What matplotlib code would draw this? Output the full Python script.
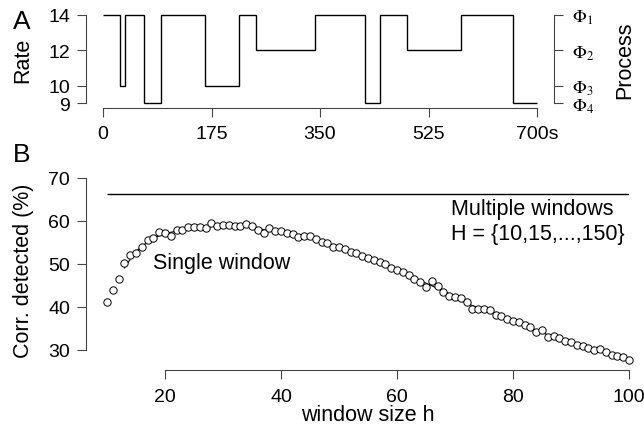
import matplotlib
matplotlib.use("Agg")
import matplotlib.pyplot as plt
import numpy as np
import pandas as pd

plt.rcParams['font.family'] = ['Liberation Sans', 'DejaVu Sans']
plt.rcParams['mathtext.fontset'] = 'stix'

# panel A: rate process switching over time
switch_times = [0, 28, 35, 66, 93, 165, 220, 247, 342, 422, 446, 491, 578, 661, 700]
rate_levels = [14, 10, 14, 9, 14, 10, 14, 12, 14, 9, 14, 12, 14, 9]
rate_ticks = [9, 10, 12, 14]
time_ticks = [0, 175, 350, 525, 700]
time_labels = ['0', '175', '350', '525', '700s']
process_ticks = [14, 12, 10, 9]
process_labels = [r'$\Phi_1$', r'$\Phi_2$', r'$\Phi_3$', r'$\Phi_4$']

# panel B: correlations detected vs window size
window_h = list(range(10, 101))
corr_single = [41.1, 44.0, 46.4, 50.2, 52.2, 52.6, 54.0, 55.6, 56.0, 57.4,
               57.1, 56.6, 57.9, 57.9, 58.7, 58.5, 58.5, 58.4, 59.5, 58.9,
               59.1, 59.1, 58.8, 58.8, 59.3, 58.8, 58.0, 57.2, 58.3, 57.7,
               57.7, 57.2, 57.0, 56.2, 56.4, 56.4, 55.8, 55.2, 54.8, 53.9,
               53.9, 53.6, 52.9, 52.5, 51.9, 51.4, 50.9, 50.5, 49.9, 49.0,
               48.5, 48.2, 47.4, 46.4, 45.7, 44.6, 46.0, 45.0, 43.4, 42.6,
               42.3, 42.0, 41.2, 39.5, 39.5, 39.5, 39.4, 38.1, 37.8, 37.2,
               36.8, 36.4, 35.7, 35.3, 34.1, 34.7, 33.0, 33.2, 32.7, 32.2,
               31.8, 31.2, 30.9, 30.4, 30.1, 30.2, 29.5, 28.8, 28.5, 28.3,
               27.7]
corr_multiple = 66.3
corr_ticks = [30, 40, 50, 60, 70]
h_ticks = [20, 40, 60, 80, 100]

fig = plt.figure(figsize=(6.44, 4.27), dpi=100)

tick_size = 14
label_size = 15.5
axis_col = '#444444'


def style_axis(ax):
    ax.tick_params(direction='out', length=6.5, width=0.8, color=axis_col,
                   labelsize=tick_size, pad=5)
    for s in ax.spines.values():
        s.set_linewidth(0.8)
        s.set_color(axis_col)


# ---- panel A ----
axA = fig.add_axes([103 / 644, 1 - 104.3 / 427, 434 / 644, 88.6 / 427])
axA.stairs(rate_levels, switch_times, baseline=None, color='black', lw=1.0,
           clip_on=False)
axA.set_xlim(0, 700)
axA.set_ylim(9, 14)
axA.set_xticks(time_ticks)
axA.set_xticklabels(time_labels)
axA.set_yticks(rate_ticks)
axA.spines['top'].set_visible(False)
axA.spines['right'].set_visible(False)
axA.spines['left'].set_position(('outward', 12.2))
axA.spines['bottom'].set_position(('outward', 3.2))
axA.spines['left'].set_bounds(9, 14)
axA.spines['bottom'].set_bounds(0, 700)
style_axis(axA)
axA.tick_params(axis='x', pad=6)
axA.set_ylabel('Rate', fontsize=label_size, labelpad=11)

axP = axA.twinx()
axP.set_ylim(9, 14)
axP.set_yticks(process_ticks)
axP.set_yticklabels(process_labels)
for s in ['top', 'left', 'bottom']:
    axP.spines[s].set_visible(False)
axP.spines['right'].set_position(('outward', 11.9))
axP.spines['right'].set_bounds(9, 14)
style_axis(axP)
axP.tick_params(axis='y', pad=7, labelsize=13)
axP.set_ylabel('Process', fontsize=label_size, rotation=90, labelpad=14)

fig.text(22 / 644, 1 - 22 / 427, 'A', fontsize=19, ha='center', va='center')

# ---- panel B ----
axB = fig.add_axes([107 / 644, 1 - 361.75 / 427, 522 / 644, 182.75 / 427])
smooth = pd.Series(corr_single).rolling(5, center=True, min_periods=1).mean()
axB.plot(window_h[3:], smooth[3:], color='black', lw=0.8)
axB.plot(window_h, corr_single, 'o', ms=5.3, mfc='white', mec='black',
         mew=0.7, clip_on=False)
axB.hlines(corr_multiple, 10, 100, color='black', lw=1.0)
axB.set_xlim(10, 100)
axB.set_ylim(27.5, 70)
axB.set_xticks(h_ticks)
axB.set_yticks(corr_ticks)
axB.spines['top'].set_visible(False)
axB.spines['right'].set_visible(False)
axB.spines['left'].set_position(('outward', 15.1))
axB.spines['bottom'].set_position(('outward', 6.3))
axB.spines['left'].set_bounds(30, 70)
axB.spines['bottom'].set_bounds(20, 100)
style_axis(axB)
axB.tick_params(axis='x', pad=7)
axB.set_xlabel('window size h', fontsize=label_size, labelpad=-1)
axB.set_ylabel('Corr. detected (%)', fontsize=label_size, labelpad=10)

axB.text(17.9, 50.3, 'Single window', fontsize=label_size, ha='left', va='center')
axB.text(69.3, 63.0, 'Multiple windows', fontsize=label_size, ha='left', va='center')
axB.text(69.3, 57.2, 'H = {10,15,...,150}', fontsize=label_size, ha='left', va='center')

fig.text(22 / 644, 1 - 155 / 427, 'B', fontsize=19, ha='center', va='center')

fig.savefig('out.png', dpi=100)
